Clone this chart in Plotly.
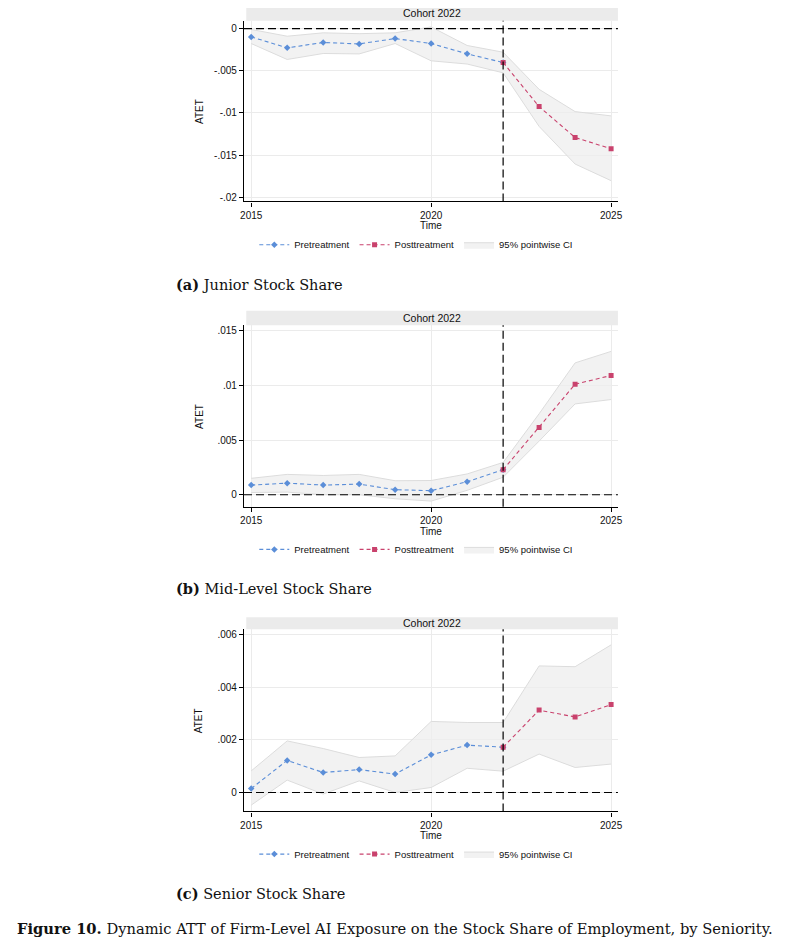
import plotly.graph_objects as go

years = [2015, 2016, 2017, 2018, 2019, 2020, 2021, 2022, 2023, 2024, 2025]
treat_year = 2022

# Panel (a) Junior stock share
junior_att = [-0.00098, -0.00228, -0.00165, -0.00181, -0.00118, -0.00177, -0.00299, -0.00402, -0.00925, -0.01291, -0.01425]
junior_lo = [-0.00177, -0.00366, -0.00295, -0.00300, -0.00177, -0.00382, -0.00420, -0.00524, -0.01160, -0.01606, -0.01803]
junior_hi = [-0.00010, -0.00090, -0.00050, -0.00060, -0.00050, 0.00020, -0.00200, -0.00280, -0.00720, -0.00984, -0.01035]

# Panel (b) Mid-level stock share
mid_att = [0.00088, 0.00106, 0.00088, 0.00097, 0.00046, 0.00037, 0.00119, 0.00228, 0.00615, 0.01010, 0.01090]
mid_lo = [0.00020, 0.00024, 0.00000, 0.00000, -0.00037, -0.00058, 0.00040, 0.00160, 0.00490, 0.00830, 0.00870]
mid_hi = [0.00150, 0.00186, 0.00176, 0.00186, 0.00128, 0.00130, 0.00190, 0.00295, 0.00740, 0.01205, 0.01310]

# Panel (c) Senior stock share
senior_att = [0.00015, 0.00122, 0.00076, 0.00087, 0.00070, 0.00143, 0.00180, 0.00172, 0.00313, 0.00287, 0.00334]
senior_lo = [-0.00048, 0.00047, -0.00006, 0.00044, 0.00000, 0.00019, 0.00092, 0.00081, 0.00146, 0.00095, 0.00108]
senior_hi = [0.00082, 0.00196, 0.00167, 0.00133, 0.00139, 0.00270, 0.00266, 0.00266, 0.00481, 0.00478, 0.00561]

junior_ticks = [0, -0.005, -0.01, -0.015, -0.02]
junior_ticktext = ["0", "-.005", "-.01", "-.015", "-.02"]
mid_ticks = [0, 0.005, 0.01, 0.015]
mid_ticktext = ["0", ".005", ".01", ".015"]
senior_ticks = [0, 0.002, 0.004, 0.006]
senior_ticktext = ["0", ".002", ".004", ".006"]
x_ticks = [2015, 2020, 2025]

strip_label = "Cohort 2022"
legend_names = ["Pretreatment", "Posttreatment", "95% pointwise CI"]
captions = ["<b>(a)</b> Junior Stock Share", "<b>(b)</b> Mid-Level Stock Share", "<b>(c)</b> Senior Stock Share"]
fig_caption = "<b>Figure 10.</b> Dynamic ATT of Firm-Level AI Exposure on the Stock Share of Employment, by Seniority."

# page body has an 8px default margin; figure starts at (8, 8) in the window
OFF = 8
W, H = 789 - OFF, 941 - OFF
PRE_COLOR = "#5b8ed8"
POST_COLOR = "#c9426d"
CI_FILL = "rgba(238,238,238,0.75)"
CI_LINE = "#dcdcdc"
SANS = "Liberation Sans, Arial, sans-serif"
SERIF = "DejaVu Serif, Liberation Serif, serif"


def py(p):
    return 1 - (p - OFF) / H


def px(p):
    return (p - OFF) / W


panels = [
    dict(att=junior_att, lo=junior_lo, hi=junior_hi, ticks=junior_ticks, tt=junior_ticktext,
         top=20.7, bot=201.7, yrange=[-0.0205, 0.00094], strip=(6, 20.7), time_y=226, leg_y=245, cap_y=285),
    dict(att=mid_att, lo=mid_lo, hi=mid_hi, ticks=mid_ticks, tt=mid_ticktext,
         top=325.7, bot=507.3, yrange=[-0.0011, 0.01548], strip=(311, 325.7), time_y=532, leg_y=550, cap_y=589),
    dict(att=senior_att, lo=senior_lo, hi=senior_hi, ticks=senior_ticks, tt=senior_ticktext,
         top=630, bot=812.3, yrange=[-0.00072, 0.0062], strip=(618, 630), time_y=836, leg_y=855, cap_y=894),
]

XL, XR = 242.7, 621
x_range = [2014.8, 2025.19]
k = years.index(treat_year)

fig = go.Figure()
layout = dict(width=W, height=H, margin=dict(l=0, r=0, t=0, b=0),
              paper_bgcolor="white", plot_bgcolor="white",
              font=dict(family=SANS, size=10, color="#111"))
shapes = []
annotations = []

for i, p in enumerate(panels):
    n = "" if i == 0 else str(i + 1)
    xa, ya = "x" + n, "y" + n
    leg = "legend" + n
    # CI band
    fig.add_trace(go.Scatter(x=years, y=p["lo"], xaxis=xa, yaxis=ya, mode="lines",
                             line=dict(color=CI_LINE, width=1), showlegend=False, hoverinfo="skip",
                             legend=leg))
    fig.add_trace(go.Scatter(x=years, y=p["hi"], xaxis=xa, yaxis=ya, mode="lines", fill="tonexty",
                             fillcolor=CI_FILL, line=dict(color=CI_LINE, width=1),
                             name=legend_names[2], legend=leg, legendrank=3))
    # Pre and post
    fig.add_trace(go.Scatter(x=years[:k + 1], y=p["att"][:k + 1], xaxis=xa, yaxis=ya, mode="lines+markers",
                             line=dict(color=PRE_COLOR, width=1.1, dash="4px,3px"),
                             marker=dict(symbol="diamond", size=5, color=PRE_COLOR),
                             name=legend_names[0], legend=leg, legendrank=1))
    fig.add_trace(go.Scatter(x=years[k:], y=p["att"][k:], xaxis=xa, yaxis=ya, mode="lines+markers",
                             line=dict(color=POST_COLOR, width=1.1, dash="4px,3px"),
                             marker=dict(symbol="square", size=5, color=POST_COLOR),
                             name=legend_names[1], legend=leg, legendrank=2))

    ydom = [py(p["bot"]), py(p["top"])]
    layout["xaxis" + n] = dict(domain=[px(XL), px(XR)], range=x_range, anchor=ya,
                               tickvals=x_ticks, ticks="outside", ticklen=4, tickcolor="black",
                               showline=True, linecolor="black", linewidth=1.2, mirror=False,
                               showgrid=True, gridcolor="#ebebeb", gridwidth=1, zeroline=False,
                               tickfont=dict(size=10, family=SANS, color="#111"))
    layout["yaxis" + n] = dict(domain=ydom, range=p["yrange"], anchor=xa,
                               tickvals=p["ticks"], ticktext=p["tt"], ticks="outside", ticklen=4,
                               tickcolor="black", showline=True, linecolor="black", linewidth=1.2,
                               showgrid=True, gridcolor="#ebebeb", gridwidth=1, zeroline=False,
                               tickfont=dict(size=10, family=SANS, color="#111"))
    layout[leg] = dict(orientation="h", x=px(417), xanchor="center", y=py(p["leg_y"]), yanchor="middle",
                       font=dict(size=9.5, family=SANS, color="#111"), bgcolor="rgba(0,0,0,0)",
                       itemwidth=30, tracegroupgap=0, traceorder="normal")

    # reference lines
    shapes.append(dict(type="line", xref=xa + " domain", yref=ya, x0=0, x1=1, y0=0, y1=0,
                       line=dict(color="black", width=1.2, dash="8px,4px"), layer="above"))
    shapes.append(dict(type="line", xref=xa, yref=ya + " domain", x0=treat_year, x1=treat_year, y0=0, y1=1,
                       line=dict(color="black", width=1.2, dash="8px,4px"), layer="above"))
    # strip
    s0, s1 = p["strip"]
    shapes.append(dict(type="rect", xref="paper", yref="paper", x0=px(245), x1=px(621),
                       y0=py(s1), y1=py(s0), fillcolor="#ebebeb", line=dict(width=0), layer="below"))
    annotations.append(dict(text=strip_label, xref="paper", yref="paper", x=px((245 + 621) / 2),
                            y=py((s0 + s1) / 2), showarrow=False, font=dict(size=10.5, family=SANS, color="#111"),
                            xanchor="center", yanchor="middle"))
    # axis titles
    annotations.append(dict(text="ATET", xref="paper", yref="paper", x=px(197),
                            y=py((p["top"] + p["bot"]) / 2), showarrow=False, textangle=-90,
                            font=dict(size=10, family=SANS, color="#111"), xanchor="center", yanchor="middle"))
    annotations.append(dict(text="Time", xref="paper", yref="paper", x=px((XL + XR) / 2),
                            y=py(p["time_y"]), showarrow=False,
                            font=dict(size=10, family=SANS, color="#111"), xanchor="center", yanchor="middle"))
    # caption
    annotations.append(dict(text=captions[i], xref="paper", yref="paper", x=px(172),
                            y=py(p["cap_y"]), showarrow=False,
                            font=dict(size=14.5, family=SERIF, color="#111"), xanchor="left", yanchor="middle"))

annotations.append(dict(text=fig_caption, xref="paper", yref="paper", x=px(395), y=py(929), showarrow=False,
                        font=dict(size=14.7, family=SERIF, color="#111"), xanchor="center", yanchor="middle"))

layout["shapes"] = shapes
layout["annotations"] = annotations
fig.update_layout(**layout)
fig.write_html("out.html")
